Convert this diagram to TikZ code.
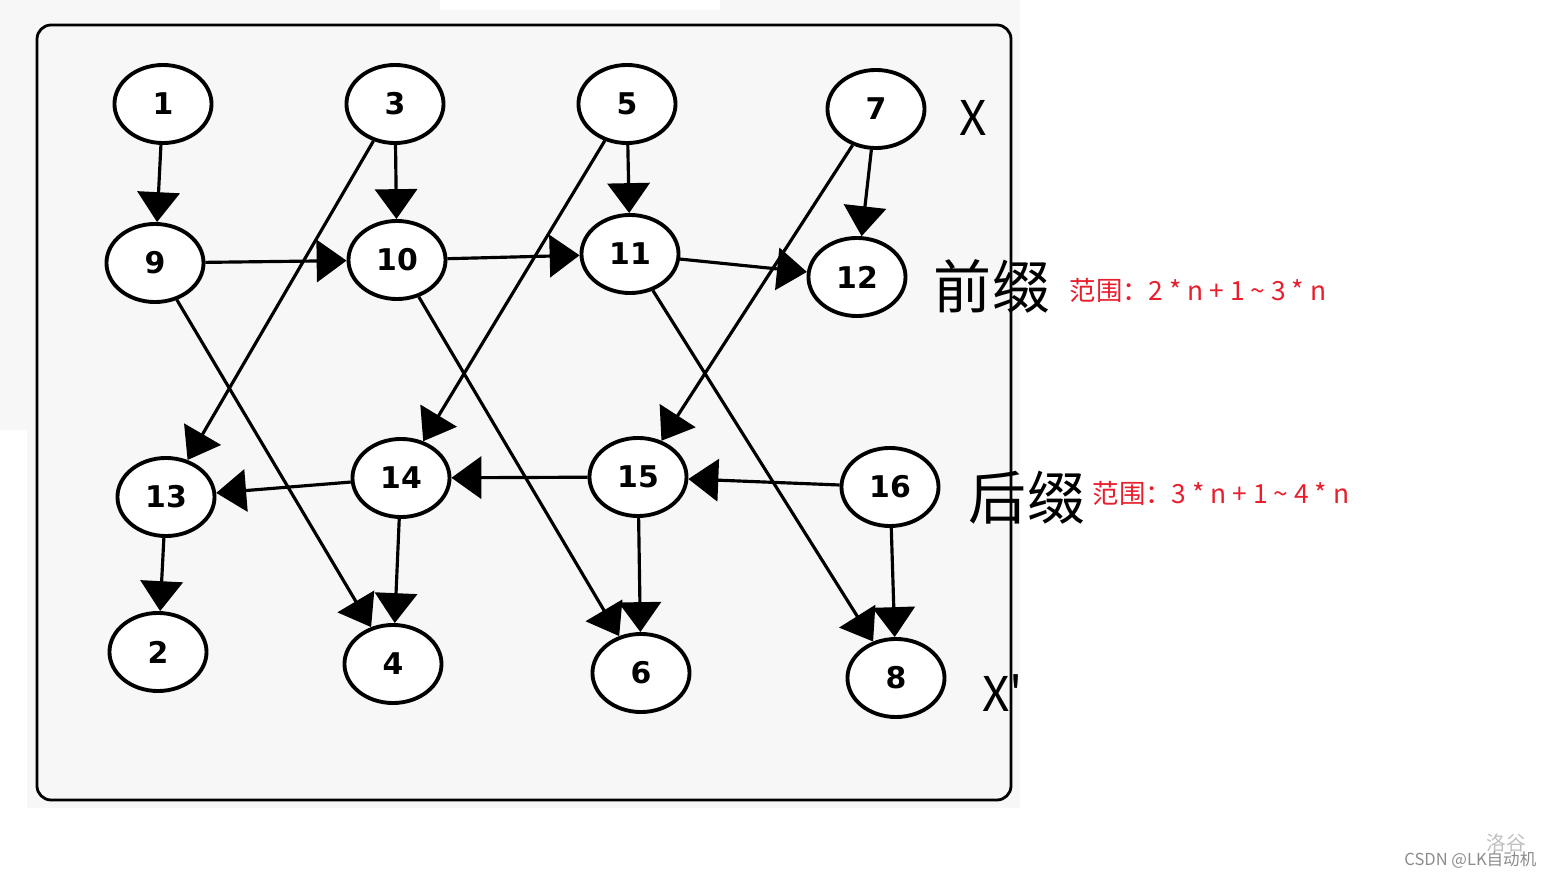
\documentclass[tikz,border=0pt]{standalone}
\usepackage{fontspec}
\setmainfont{DejaVu Sans}
\newfontfamily\cjk{Noto Sans CJK SC}
\usetikzlibrary{shapes.geometric,arrows.meta}
\definecolor{panelgray}{RGB}{247,247,247}
\definecolor{rangered}{RGB}{232,30,45}
\tikzset{
    vert/.style={ellipse, draw, line width=1.1pt, fill=white, minimum width=0.97cm,
        minimum height=0.78cm, inner sep=0pt, font=\bfseries\fontsize{8.5}{10}\selectfont},
    edge/.style={line width=0.9pt, -{Triangle[length=8.5pt,width=12pt]}},
    bigtag/.style={font=\cjk\fontsize{16.5}{18}\selectfont},
    axistag/.style={font=\cjk\fontsize{13.6}{15}\selectfont},
    rangetag/.style={anchor=west, inner sep=0pt, text=rangered, font=\cjk\fontsize{7.5}{9}\selectfont}
}
\begin{document}
\begin{tikzpicture}[x=0.01cm, y=-0.01cm]
                \useasboundingbox (0,0) rectangle (1553,879);
                \fill[panelgray] (27,0) rectangle (1020,808);
                \fill[panelgray] (0,0) rectangle (27,430);
                \fill[white] (440,0) rectangle (720,10);

                \node[vert] (n1) at (163,104) {1};
                \node[vert] (n3) at (395,104) {3};
                \node[vert] (n5) at (627,104) {5};
                \node[vert] (n7) at (876,109) {7};
                \node[vert] (n9) at (155,263) {9};
                \node[vert] (n10) at (397,260) {10};
                \node[vert] (n11) at (630,254) {11};
                \node[vert] (n12) at (857,277) {12};
                \node[vert] (n13) at (166,497) {13};
                \node[vert] (n14) at (401,478) {14};
                \node[vert] (n15) at (638,477) {15};
                \node[vert] (n16) at (890,487) {16};
                \node[vert] (n2) at (158,652) {2};
                \node[vert] (n4) at (393,664) {4};
                \node[vert] (n6) at (641,673) {6};
                \node[vert] (n8) at (896,678) {8};

                \draw[edge] (n1) -- (n9);
                \draw[edge] (n3) -- (n10);
                \draw[edge] (n5) -- (n11);
                \draw[edge] (n7) -- (n12);
                \draw[edge] (n3) -- (n13);
                \draw[edge] (n5) -- (n14);
                \draw[edge] (n7) -- (n15);
                \draw[edge] (n9) -- (n10);
                \draw[edge] (n10) -- (n11);
                \draw[edge] (n11) -- (n12);
                \draw[edge] (n9) -- (n4);
                \draw[edge] (n10) -- (n6);
                \draw[edge] (n11) -- (n8);
                \draw[edge] (n14) -- (n13);
                \draw[edge] (n15) -- (n14);
                \draw[edge] (n16) -- (n15);
                \draw[edge] (n13) -- (n2);
                \draw[edge] (n14) -- (n4);
                \draw[edge] (n15) -- (n6);
                \draw[edge] (n16) -- (n8);

                \node[axistag] (xin) at (973,118) {X};
                \node[axistag] (xout) at (1003,693) {X'};
                \node[bigtag] (prefix) at (992,286) {前缀};
                \node[bigtag] (suffix) at (1027,498) {后缀};
                \node[rangetag] (prefixrange) at (1069,290) {范围：2 * n + 1 \textasciitilde{} 3 * n};
                \node[rangetag] (suffixrange) at (1092,493) {范围：3 * n + 1 \textasciitilde{} 4 * n};

                \draw[line width=0.8pt, rounded corners=4pt] (37,25) rectangle (1011,800);

                \node[text=black!25, font=\cjk\fontsize{5.6}{6}\selectfont] (mark) at (1506,843) {洛谷};
                \node[anchor=east, inner sep=0pt, text=black!45, font=\cjk\fontsize{4.7}{5}\selectfont] (site) at (1537,860) {CSDN @LK自动机};
            \end{tikzpicture}
\end{document}
